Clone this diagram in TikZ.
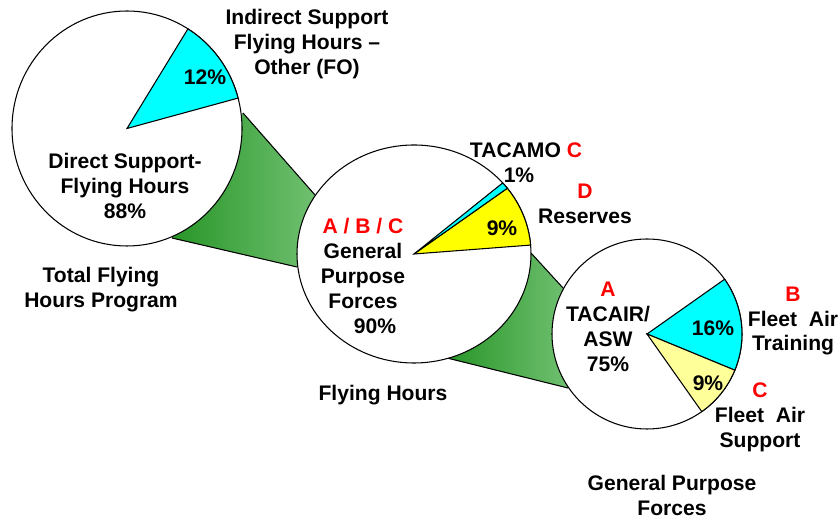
\documentclass[tikz,border=0pt]{standalone}
\usepackage{fontspec}
\setmainfont{Liberation Sans}
\definecolor{fdark}{RGB}{40,150,40}
\definecolor{flight}{RGB}{112,192,112}
\definecolor{aqua}{RGB}{0,255,255}
\definecolor{byellow}{RGB}{255,255,0}
\definecolor{lyellow}{RGB}{255,255,153}
\definecolor{tred}{RGB}{255,0,0}
\begin{document}
\begin{tikzpicture}[x=0.02cm, y=0.02cm, line width=0.6pt,
    lbl/.style={font=\fontsize{12}{14.2}\selectfont\bfseries, align=center, inner sep=0pt},
    funnel/.style={left color=fdark, right color=flight},
    pie/.style={draw=black, fill=white}]
    \useasboundingbox (0,0) rectangle (839,517);
    % centres of the three pies
    \coordinate (c1) at (127,388.5);
    \coordinate (c2) at (414,263);
    \coordinate (c3) at (647,183);
    % ends of the funnels
    \coordinate (f1a) at (243,404);
    \coordinate (f1b) at (172,279);
    \coordinate (f2a) at (315,322);
    \coordinate (f2b) at (297,250);
    \coordinate (f3a) at (531,264);
    \coordinate (f3b) at (447,159);
    \coordinate (f4a) at (563,229);
    \coordinate (f4b) at (568,129);
    \fill[funnel] (f1a) -- (f2a) -- (f2b) -- (f1b) -- cycle;
    \draw (f1a) -- (f2a) (f1b) -- (f2b);
    \fill[funnel] (f3a) -- (f4a) -- (f4b) -- (f3b) -- cycle;
    \draw (f3a) -- (f4a) (f3b) -- (f4b);
    % pies
    \filldraw[pie] (c1) ellipse [x radius=115, y radius=117.5];
    \filldraw[fill=aqua] (c1) -- ++(15:115 and 117.5) arc[start angle=15, end angle=58, x radius=115, y radius=117.5] -- cycle;
    \filldraw[pie] (c2) ellipse [x radius=117, y radius=109];
    \filldraw[fill=byellow] (c2) -- ++(4.7:117 and 109) arc[start angle=4.7, end angle=37.1, x radius=117, y radius=109] -- cycle;
    \filldraw[fill=aqua] (c2) -- ++(37.1:117 and 109) arc[start angle=37.1, end angle=40.7, x radius=117, y radius=109] -- cycle;
    \filldraw[pie] (c3) circle [radius=95];
    \filldraw[fill=aqua] (c3) -- ++(-22.4:95) arc[start angle=-22.4, end angle=35.2, radius=95] -- cycle;
    \filldraw[fill=lyellow] (c3) -- ++(-54.8:95) arc[start angle=-54.8, end angle=-22.4, radius=95] -- cycle;
    % labels
    \node[lbl] (indirect) at (307,473) {Indirect Support\\Flying Hours --\\Other (FO)};
    \node[lbl] (pctA) at (205,440) {12\%};
    \node[lbl] (direct) at (125,331) {Direct Support-\\Flying Hours\\88\%};
    \node[lbl] (total) at (101,227.5) {Total Flying\\Hours Program};
    \node[lbl] (gpf) at (363,241) {\textcolor{tred}{A / B / C}\\General\\Purpose\\Forces\\\hspace*{0.48cm}90\%};
    \node[lbl] (flying) at (383,122) {Flying Hours};
    \node[lbl] (tacamo) at (526,354.5) {TACAMO \textcolor{tred}{C}\\1\%\hspace*{0.28cm}};
    \node[lbl] (reserves) at (585,313.5) {\textcolor{tred}{D}\\Reserves};
    \node[lbl] (pctB) at (502,289) {9\%};
    \node[lbl] (tacair) at (608,190) {\textcolor{tred}{A}\\TACAIR/\\ASW\\75\%};
    \node[lbl] (pctC) at (713,189) {16\%};
    \node[lbl] (pctD) at (708,134) {9\%};
    \node[lbl] (training) at (793,196) {\textcolor{tred}{B}\\Fleet\ \ Air\\Training};
    \node[lbl] (support) at (760,100) {\textcolor{tred}{C}\\Fleet\ \ Air\\Support};
    \node[lbl] (gpfcap) at (672,22) {General Purpose\\Forces};
\end{tikzpicture}
\end{document}
